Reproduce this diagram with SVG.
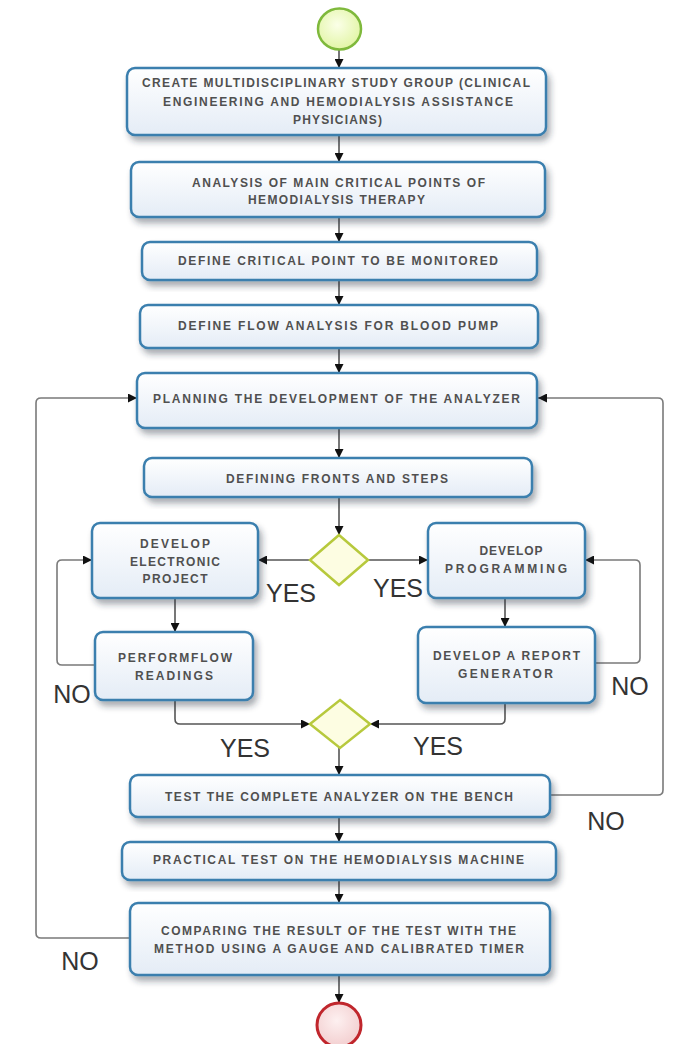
<svg xmlns="http://www.w3.org/2000/svg" width="677" height="1044" viewBox="0 0 677 1044">
<defs>
<linearGradient id="boxFill" x1="0" y1="0" x2="0" y2="1">
<stop offset="0" stop-color="#ffffff"/>
<stop offset="1" stop-color="#e4ecf6"/>
</linearGradient>
<radialGradient id="startFill" cx="0.45" cy="0.4" r="0.6">
<stop offset="0" stop-color="#fbffe8"/>
<stop offset="1" stop-color="#e2f5a6"/>
</radialGradient>
<radialGradient id="endFill" cx="0.45" cy="0.4" r="0.6">
<stop offset="0" stop-color="#fdf0f0"/>
<stop offset="1" stop-color="#f3cfd0"/>
</radialGradient>
<filter id="shadow" x="-5%" y="-10%" width="112%" height="140%">
<feDropShadow dx="3" dy="5" stdDeviation="3" flood-color="#203040" flood-opacity="0.4"/>
</filter>
<marker id="arr" viewBox="0 0 10 10" refX="10" refY="5" markerWidth="9" markerHeight="9" markerUnits="userSpaceOnUse" orient="auto">
<path d="M0,0 L10,5 L0,10 Z" fill="#111"/>
</marker>
<style>
.box{fill:url(#boxFill);stroke:#3a7fae;stroke-width:2.5;filter:url(#shadow)}
.dia{fill:#fdfde2;stroke:#b7c93c;stroke-width:2.5}
.t{font-family:"Liberation Sans",Arial,sans-serif;font-size:12px;font-weight:bold;fill:#505050;text-anchor:middle}
.lbl{font-family:"Liberation Sans",Arial,sans-serif;font-size:25px;fill:#333;text-anchor:middle}
.c{fill:none;stroke:#555;stroke-width:1.6;marker-end:url(#arr)}
.loop{fill:none;stroke:#7a7a7a;stroke-width:1.6;marker-end:url(#arr)}
</style>
</defs>
<rect width="677" height="1044" fill="#ffffff"/>

<g id="connectors">
<line class="c" x1="339" y1="50" x2="339" y2="68"/>
<line class="c" x1="339" y1="135" x2="339" y2="162"/>
<line class="c" x1="339" y1="217" x2="339" y2="242"/>
<line class="c" x1="339" y1="280" x2="339" y2="305"/>
<line class="c" x1="339" y1="348" x2="339" y2="373"/>
<line class="c" x1="339" y1="428" x2="339" y2="458"/>
<line class="c" x1="339" y1="497" x2="339" y2="535"/>
<line class="c" x1="310" y1="560" x2="258" y2="560"/>
<line class="c" x1="368" y1="560" x2="428" y2="560"/>
<line class="c" x1="175" y1="598" x2="175" y2="632"/>
<line class="c" x1="505" y1="598" x2="505" y2="627"/>
<path class="c" d="M175,700 L175,719 Q175,724 180,724 L310,724"/>
<path class="c" d="M505,703 L505,719 Q505,724 500,724 L370,724"/>
<line class="c" x1="339" y1="748" x2="339" y2="775"/>
<line class="c" x1="339" y1="817" x2="339" y2="842"/>
<line class="c" x1="339" y1="880" x2="339" y2="903"/>
<line class="c" x1="339" y1="975" x2="339" y2="1003"/>
<path class="loop" d="M95,665 L62,665 Q57,665 57,660 L57,565 Q57,560 62,560 L92,560"/>
<path class="loop" d="M595,663 L635,663 Q640,663 640,658 L640,565 Q640,560 635,560 L585,560"/>
<path class="loop" d="M130,938 L41,938 Q36,938 36,933 L36,403 Q36,398 41,398 L137,398"/>
<path class="loop" d="M550,795 L658,795 Q663,795 663,790 L663,403 Q663,398 658,398 L538,398"/>
</g>

<g id="start">
<ellipse cx="339.5" cy="29" rx="21.5" ry="20.5" fill="url(#startFill)" stroke="#7fb93c" stroke-width="2.5"/>
</g>

<g id="box1">
<rect class="box" x="127" y="68" width="419" height="67" rx="8"/>
<text class="t" x="336" y="87" textLength="388" lengthAdjust="spacing">CREATE MULTIDISCIPLINARY STUDY GROUP (CLINICAL</text>
<text class="t" x="338" y="106" textLength="350" lengthAdjust="spacing">ENGINEERING AND HEMODIALYSIS ASSISTANCE</text>
<text class="t" x="337.5" y="124" textLength="89" lengthAdjust="spacing">PHYSICIANS)</text>
</g>

<g id="box2">
<rect class="box" x="131" y="162" width="414" height="55" rx="8"/>
<text class="t" x="338.5" y="187" textLength="293" lengthAdjust="spacing">ANALYSIS OF MAIN CRITICAL POINTS OF</text>
<text class="t" x="336.5" y="204" textLength="177" lengthAdjust="spacing">HEMODIALYSIS THERAPY</text>
</g>

<g id="box3">
<rect class="box" x="142" y="242" width="395" height="38" rx="8"/>
<text class="t" x="338" y="265" textLength="320" lengthAdjust="spacing">DEFINE CRITICAL POINT TO BE MONITORED</text>
</g>

<g id="box4">
<rect class="box" x="140" y="305" width="398" height="43" rx="8"/>
<text class="t" x="338" y="330" textLength="320" lengthAdjust="spacing">DEFINE FLOW ANALYSIS FOR BLOOD PUMP</text>
</g>

<g id="box5">
<rect class="box" x="137" y="373" width="400" height="55" rx="8"/>
<text class="t" x="336.5" y="403" textLength="367" lengthAdjust="spacing">PLANNING THE DEVELOPMENT OF THE ANALYZER</text>
</g>

<g id="box6">
<rect class="box" x="144" y="458" width="388" height="39" rx="8"/>
<text class="t" x="337" y="483" textLength="222" lengthAdjust="spacing">DEFINING FRONTS AND STEPS</text>
</g>

<g id="decision1">
<polygon class="dia" points="339,535 368,560 339,585 310,560"/>
</g>

<g id="electronic">
<rect class="box" x="92" y="523" width="166" height="75" rx="8"/>
<text class="t" x="175" y="548" textLength="70" lengthAdjust="spacing">DEVELOP</text>
<text class="t" x="175" y="566" textLength="90" lengthAdjust="spacing">ELECTRONIC</text>
<text class="t" x="175" y="583" textLength="65" lengthAdjust="spacing">PROJECT</text>
</g>

<g id="programming">
<rect class="box" x="428" y="523" width="157" height="75" rx="8"/>
<text class="t" x="511" y="555" textLength="63" lengthAdjust="spacing">DEVELOP</text>
<text class="t" x="506" y="573" textLength="122" lengthAdjust="spacing">PROGRAMMING</text>
</g>

<g id="perform">
<rect class="box" x="95" y="632" width="158" height="68" rx="8"/>
<text class="t" x="175" y="662" textLength="114" lengthAdjust="spacing">PERFORMFLOW</text>
<text class="t" x="174" y="680" textLength="78" lengthAdjust="spacing">READINGS</text>
</g>

<g id="report">
<rect class="box" x="418" y="627" width="177" height="76" rx="8"/>
<text class="t" x="506.5" y="660" textLength="147" lengthAdjust="spacing">DEVELOP A REPORT</text>
<text class="t" x="505.5" y="678" textLength="95" lengthAdjust="spacing">GENERATOR</text>
</g>

<g id="decision2">
<polygon class="dia" points="340,700 370,724 340,748 310,724"/>
</g>

<g id="test">
<rect class="box" x="130" y="775" width="420" height="42" rx="8"/>
<text class="t" x="339" y="801" textLength="348" lengthAdjust="spacing">TEST THE COMPLETE ANALYZER ON THE BENCH</text>
</g>

<g id="practical">
<rect class="box" x="122" y="842" width="434" height="38" rx="8"/>
<text class="t" x="338.5" y="864" textLength="371" lengthAdjust="spacing">PRACTICAL TEST ON THE HEMODIALYSIS MACHINE</text>
</g>

<g id="comparing">
<rect class="box" x="130" y="903" width="420" height="72" rx="8"/>
<text class="t" x="338.5" y="935" textLength="355" lengthAdjust="spacing">COMPARING THE RESULT OF THE TEST WITH THE</text>
<text class="t" x="339" y="953" textLength="370" lengthAdjust="spacing">METHOD USING A GAUGE AND CALIBRATED TIMER</text>
</g>

<g id="end">
<circle cx="339" cy="1025" r="22" fill="url(#endFill)" stroke="#c0262c" stroke-width="3"/>
</g>

<g id="labels">
<text class="lbl" x="291" y="602">YES</text>
<text class="lbl" x="398" y="597">YES</text>
<text class="lbl" x="245" y="757">YES</text>
<text class="lbl" x="438" y="755">YES</text>
<text class="lbl" x="72" y="703">NO</text>
<text class="lbl" x="630" y="695">NO</text>
<text class="lbl" x="606" y="830">NO</text>
<text class="lbl" x="80" y="970">NO</text>
</g>
</svg>
